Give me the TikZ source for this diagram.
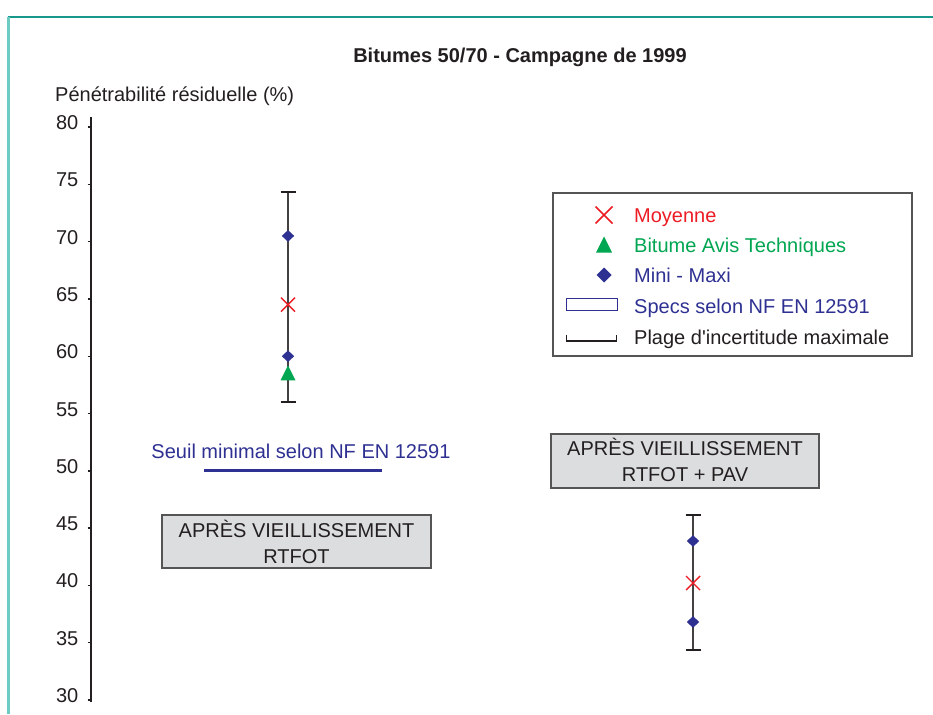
\documentclass[tikz,border=0pt]{standalone}
\usepackage{fontspec}
\setmainfont{Liberation Sans}
% plain family without TeX ligature mapping, so ' stays a straight quote
\newfontfamily\plainsans{Liberation Sans}
\definecolor{ink}{HTML}{231F20}
\definecolor{redmark}{HTML}{ED1C24}
\definecolor{greenmark}{HTML}{00A651}
\definecolor{navy}{HTML}{2E3192}
\definecolor{boxgray}{HTML}{DCDDDE}
\definecolor{framegray}{HTML}{555555}
\definecolor{tealtop}{HTML}{16988C}
\definecolor{tealside}{HTML}{6ECBC3}
\tikzset{
  txt/.style={font=\plainsans\fontsize{20}{24}\selectfont, text=ink, inner sep=0pt},
  boxframe/.style={draw=framegray, line width=1.2pt, fill=boxgray, inner sep=0pt},
  errline/.style={draw=ink!85, line width=1.6pt},
  errcap/.style={draw=ink, line width=2.6pt},
  pics/diamondmark/.style={code={\fill[navy] (0,-5.8) -- (6.2,0) -- (0,5.8) -- (-6.2,0) -- cycle;}},
  pics/crossmark/.style={code={\draw[redmark, line width=1.4pt] (-7,-7) -- (7,7) (-7,7) -- (7,-7);}},
  pics/trimark/.style={code={\fill[greenmark] (0,-8) -- (7.5,7) -- (-7.5,7) -- cycle;}},
  pics/legdiamond/.style={code={\fill[navy] (0,-7.5) -- (7.5,0) -- (0,7.5) -- (-7.5,0) -- cycle;}},
  pics/legcross/.style={code={\draw[redmark, line width=1.5pt] (-8.5,-8.5) -- (8.5,8.5) (-8.5,8.5) -- (8.5,-8.5);}},
  pics/legtri/.style={code={\fill[greenmark] (0,-8.5) -- (8,7.5) -- (-8,7.5) -- cycle;}},
}
\begin{document}
\begin{tikzpicture}[x=1pt, y=-1pt]
\useasboundingbox (0,0) rectangle (933,714);
\fill[white] (0,0) rectangle (933,714);

% page frame
\draw[tealtop, line width=2pt] (8,17) -- (933,17);
\draw[tealside, line width=2.2pt] (8.5,17) -- (8.5,714);

% titles
\node[txt, anchor=base, font=\plainsans\fontsize{20}{24}\selectfont\bfseries] (title) at (520,63) {Bitumes 50/70 - Campagne de 1999};
\node[txt, anchor=base west] (ytitle) at (55,102) {Pénétrabilité résiduelle (\%)};

% value axis
\draw[ink, line width=1.2pt] (91,117) -- (91,702);
\foreach \v/\yy in {80/127, 75/184.3, 70/241.6, 65/298.9, 60/356.2, 55/413.5, 50/470.8, 45/528.1, 40/585.4, 35/642.7, 30/700} {
  \draw[ink, line width=1.4pt] (87.5,\yy) -- (91,\yy);
  \node[txt, anchor=base east] (tick\v) at (78.5,\yy+2.5) {\v};
}

% after RTFOT ageing
\coordinate (a1top) at (288,192);
\coordinate (a1bot) at (288,402);
\draw[errline] (a1top) -- (a1bot);
\draw[errcap] (280.5,192) -- (295.5,192);
\draw[errcap] (280.5,402) -- (295.5,402);
\pic at (288,235.9) {diamondmark};
\pic at (288,304.6) {crossmark};
\pic at (288,373.4) {trimark};
\pic at (288,356.2) {diamondmark};

% after RTFOT + PAV ageing
\coordinate (a2top) at (693,515);
\coordinate (a2bot) at (693,650);
\draw[errline] (a2top) -- (a2bot);
\draw[errcap] (685.5,515) -- (700.5,515);
\draw[errcap] (685.5,650) -- (700.5,650);
\pic at (693,541) {diamondmark};
\pic at (693,583) {crossmark};
\pic at (693,622) {diamondmark};

% minimal threshold
\node[txt, anchor=base, text=navy] (seuil) at (301,458) {Seuil minimal selon NF EN 12591};
\coordinate (seuilL) at (204,470);
\coordinate (seuilR) at (382,470);
\draw[navy, line width=3pt] (seuilL) -- (seuilR);

% ageing captions
\node[boxframe, minimum width=269pt, minimum height=53pt] (box1) at (296.5,541.5) {};
\node[txt, anchor=base] (box1a) at (296.5,537) {APRÈS VIEILLISSEMENT};
\node[txt, anchor=base] (box1b) at (296.5,563) {RTFOT};
\node[boxframe, minimum width=268pt, minimum height=54pt] (box2) at (685,461) {};
\node[txt, anchor=base] (box2a) at (685,455.5) {APRÈS VIEILLISSEMENT};
\node[txt, anchor=base] (box2b) at (685,481.5) {RTFOT + PAV};

% legend
\node[draw=framegray, line width=1.2pt, fill=white, minimum width=359pt, minimum height=163pt, inner sep=0pt] (legend) at (732.5,274.5) {};
\pic at (604,215) {legcross};
\node[txt, anchor=base west, text=redmark] (lg1) at (634,222) {Moyenne};
\pic at (604,245) {legtri};
\node[txt, anchor=base west, text=greenmark] (lg2) at (634,252) {Bitume Avis Techniques};
\pic at (604,275) {legdiamond};
\node[txt, anchor=base west, text=navy] (lg3) at (634,282) {Mini - Maxi};
\draw[navy, line width=1pt] (566,298.5) rectangle (617,310);
\node[txt, anchor=base west, text=navy] (lg4) at (634,313) {Specs selon NF EN 12591};
\draw[ink, line width=1.2pt] (566.5,334.5) -- (566.5,341) -- (616.5,341) -- (616.5,334.5);
\node[txt, anchor=base west] (lg5) at (634,344) {Plage d'incertitude maximale};
\end{tikzpicture}
\end{document}
